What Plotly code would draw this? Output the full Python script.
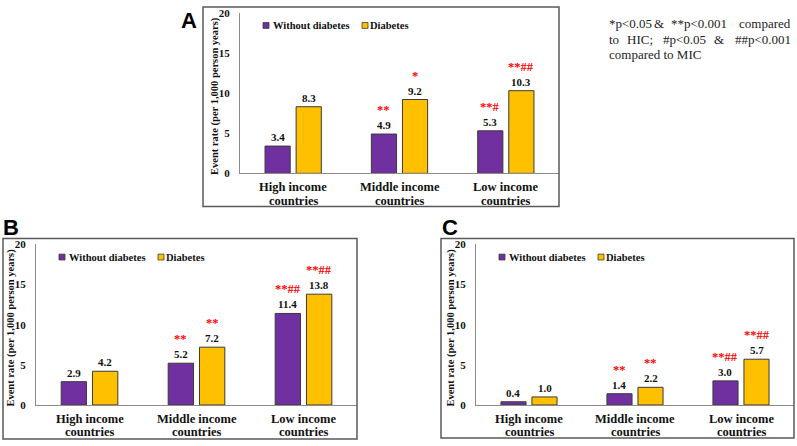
import plotly.graph_objects as go

# ---------------- data ----------------
categories = ["High income countries", "Middle income countries", "Low income countries"]
cat_line1 = ["High income", "Middle income", "Low income"]
cat_line2 = ["countries", "countries", "countries"]
series_names = ["Without diabetes", "Diabetes"]

A_without = [3.4, 4.9, 5.3]
A_with = [8.3, 9.2, 10.3]
A_sig_without = ["", "**", "**#"]
A_sig_with = ["", "*", "**##"]

B_without = [2.9, 5.2, 11.4]
B_with = [4.2, 7.2, 13.8]
B_sig_without = ["", "**", "**##"]
B_sig_with = ["", "**", "**##"]

C_without = [0.4, 1.4, 3.0]
C_with = [1.0, 2.2, 5.7]
C_sig_without = ["", "**", "**##"]
C_sig_with = ["", "**", "**##"]

y_ticks = [0, 5, 10, 15, 20]
y_title = "Event rate (per 1,000 person years)"
footnote_lines = [
    ["*p<0.05", "&", "**p<0.001", "compared"],
    ["to", "HIC;", "#p<0.05", "&", "##p<0.001"],
    ["compared to MIC"],
]

# ---------------- styling / layout ----------------
W, H = 797, 446
PURPLE = "#7030A0"
YELLOW = "#FFC000"
RED = "#FF0000"
SERIF = "Liberation Serif, Times New Roman, serif"
SANS = "Liberation Sans, Arial, sans-serif"
AXLINE = "#8c8c8c"
BOXLINE = "#595959"
BARGAP = 0.415
BARGROUPGAP = 0.19


def fx(px):
    return px / W


def fy(py):
    return 1 - py / H


panels = [
    dict(name="A", ax="", wo=A_without, wi=A_with, swo=A_sig_without, swi=A_sig_with,
         l=240, r=559, t=7, b=172, box=(203, 1, 559, 206), label=(189, 14.5)),
    dict(name="B", ax="2", wo=B_without, wi=B_with, swo=B_sig_without, swi=B_sig_with,
         l=36, r=357, t=245, b=410, box=(3, 239, 357, 445), label=(11, 227.5)),
    dict(name="C", ax="3", wo=C_without, wi=C_with, swo=C_sig_without, swi=C_sig_with,
         l=476, r=794, t=245, b=410, box=(441, 239, 794, 444), label=(450, 227.5)),
]

fig = go.Figure()
annotations = []
shapes = []
layout_axes = {}

for p in panels:
    ax = p["ax"]
    xname, yname = "x" + ax, "y" + ax
    for vals, name, col in ((p["wo"], series_names[0], PURPLE), (p["wi"], series_names[1], YELLOW)):
        fig.add_trace(go.Bar(
            x=categories, y=vals, name=name, xaxis=xname, yaxis=yname,
            marker=dict(color=col, line=dict(color="#3a3a3a", width=1)),
            showlegend=False, hoverinfo="x+y",
        ))
    layout_axes["xaxis" + ax] = dict(
        domain=[fx(p["l"]), fx(p["r"])], anchor=yname, type="category",
        showline=True, linecolor=AXLINE, linewidth=1, showgrid=False,
        showticklabels=False, ticks="", zeroline=False, fixedrange=True,
    )
    layout_axes["yaxis" + ax] = dict(
        domain=[fy(p["b"]), fy(p["t"])], anchor=xname, range=[0, 20],
        tickvals=y_ticks, showline=True, linecolor=AXLINE, linewidth=1,
        showgrid=False, zeroline=False, ticks="", ticklabelstandoff=7,
        tickfont=dict(family=SERIF, size=11, color="#111", weight="bold"),
        fixedrange=True,
    )

    # bar centre offsets (pixels) derived from bargap settings
    catw = (p["r"] - p["l"]) / len(categories)
    off = catw * (1 - BARGAP) / 4

    for vals, sigs, sgn in ((p["wo"], p["swo"], -1), (p["wi"], p["swi"], 1)):
        for c, v, s in zip(categories, vals, sigs):
            annotations.append(dict(
                x=c, y=v, xref=xname, yref=yname, xshift=sgn * off, yshift=1,
                xanchor="center", yanchor="bottom", showarrow=False, text=f"{v:.1f}",
                font=dict(family=SERIF, size=11, color="#111", weight="bold"),
            ))
            if s:
                annotations.append(dict(
                    x=c, y=v, xref=xname, yref=yname, xshift=sgn * off, yshift=15,
                    xanchor="center", yanchor="bottom", showarrow=False, text=s,
                    font=dict(family=SERIF, size=12.5, color=RED, weight="bold"),
                ))

    # category labels (two lines)
    for c, l1, l2 in zip(categories, cat_line1, cat_line2):
        for txt, dy in ((l1, -14), (l2, -27.5)):
            annotations.append(dict(
                x=c, y=0, xref=xname, yref=yname, yshift=dy,
                xanchor="center", yanchor="middle",
                showarrow=False, text=txt,
                font=dict(family=SERIF, size=12.5, color="#111", weight="bold"),
            ))

    # y axis title
    annotations.append(dict(
        x=fx(p["l"] - 25), y=fy((p["t"] + p["b"]) / 2 + 3), xref="paper", yref="paper",
        xanchor="center", yanchor="middle",
        textangle=-90, showarrow=False, text=y_title,
        font=dict(family=SERIF, size=10.5, color="#111", weight="bold"),
    ))

    # legend (manual, Excel style)
    ly = p["t"] + 13
    for name, col, sq, tx in ((series_names[0], PURPLE, 23, 31), (series_names[1], YELLOW, 122, 128)):
        shapes.append(dict(
            type="rect", xref="paper", yref="paper",
            x0=fx(p["l"] + sq), x1=fx(p["l"] + sq + 6), y0=fy(ly - 3), y1=fy(ly + 3),
            fillcolor=col, line=dict(color="#3a3a3a", width=0.8),
        ))
        annotations.append(dict(
            x=fx(p["l"] + tx), y=fy(ly), xref="paper", yref="paper",
            xanchor="left", yanchor="middle", showarrow=False, text=name,
            font=dict(family=SERIF, size=10.5, color="#111", weight="bold"),
        ))

    # panel frame
    x0, y0, x1, y1 = p["box"]
    shapes.append(dict(
        type="rect", xref="paper", yref="paper",
        x0=fx(x0), x1=fx(x1), y0=fy(y1), y1=fy(y0),
        line=dict(color=BOXLINE, width=1.5), fillcolor="rgba(0,0,0,0)",
    ))

    # panel letter
    annotations.append(dict(
        x=fx(p["label"][0]), y=fy(p["label"][1]), xref="paper", yref="paper",
        xanchor="center", yanchor="middle",
        showarrow=False, text=p["name"],
        font=dict(family=SANS, size=22, color="#000", weight="bold"),
    ))

# footnote (justified manually: first word left, last word right, others centred)
foot_left, foot_right = 607, 793
foot_mid = [[659, 698.5], [640, 684.5, 719], []]
foot_y = [18, 34.5, 50]
for words, mids, yy in zip(footnote_lines, foot_mid, foot_y):
    for i, wd in enumerate(words):
        if i == 0:
            xx, anc = foot_left, "left"
        elif i == len(words) - 1:
            xx, anc = foot_right, "right"
        else:
            xx, anc = mids[i - 1], "center"
        annotations.append(dict(
            x=fx(xx), y=fy(yy), xref="paper", yref="paper", xanchor=anc,
            yanchor="middle", showarrow=False, text=wd,
            font=dict(family=SERIF, size=13, color="#222"),
        ))

fig.update_layout(
    width=W, height=H, margin=dict(l=0, r=0, t=0, b=0),
    paper_bgcolor="white", plot_bgcolor="white",
    barmode="group", bargap=BARGAP, bargroupgap=BARGROUPGAP,
    annotations=annotations, shapes=shapes, showlegend=False,
    **layout_axes,
)

fig.write_html(
    "out.html",
    config={"displayModeBar": False},
    post_script="document.body.style.margin='0';document.body.style.overflow='hidden';",
)
